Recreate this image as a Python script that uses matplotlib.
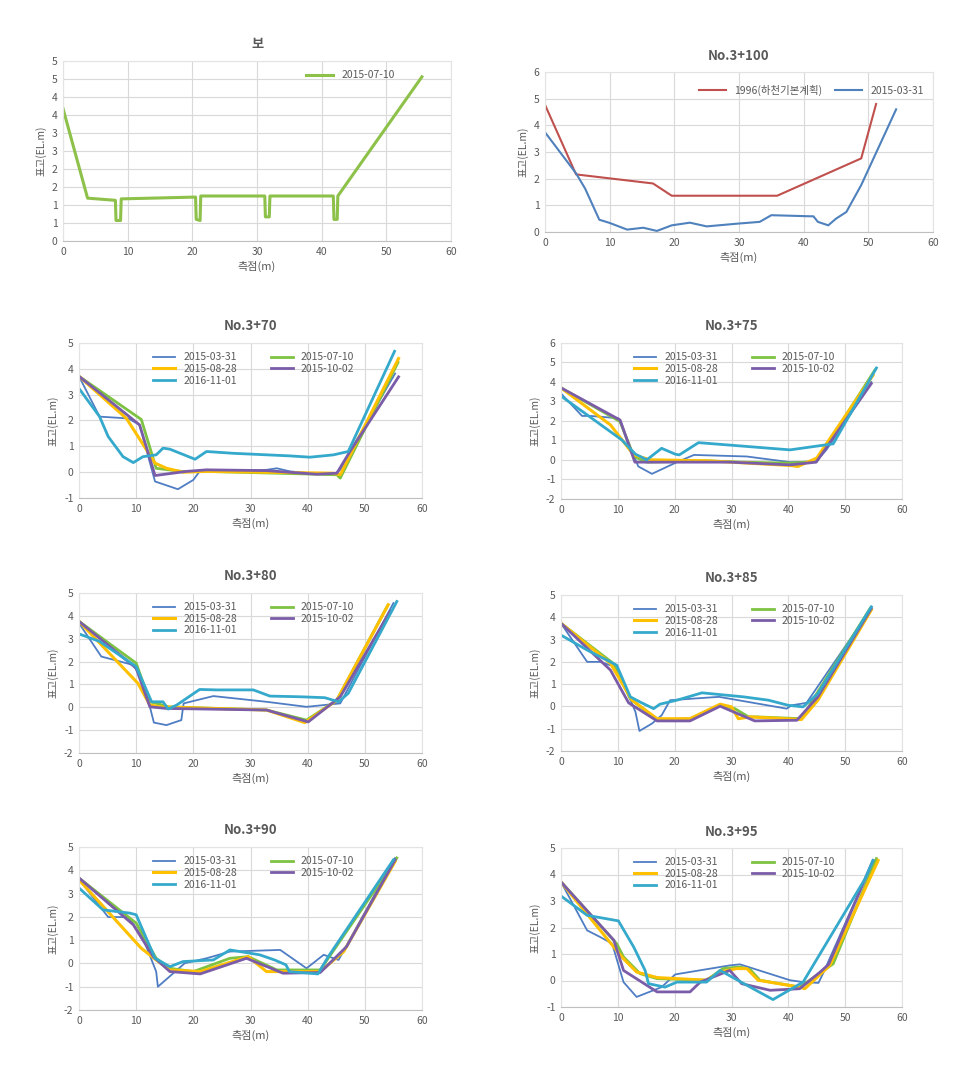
import matplotlib
matplotlib.use("Agg")
import matplotlib.pyplot as plt
from matplotlib.ticker import FuncFormatter, MultipleLocator

plt.rcParams['font.family'] = ['Noto Sans CJK KR', 'DejaVu Sans']
plt.rcParams['axes.unicode_minus'] = False

# ---- data: (station m, elevation EL.m) ----
bo_0710 = [(0, 3.68), (3.8, 1.19), (8.1, 1.13), (8.2, 0.57), (8.9, 0.57), (9.0, 1.17),
           (20.5, 1.22), (20.6, 0.6), (21.2, 0.57), (21.3, 1.25), (31.2, 1.25), (31.3, 0.67),
           (31.9, 0.67), (32.0, 1.25), (41.8, 1.25), (41.9, 0.6), (42.4, 0.6), (42.5, 1.25),
           (55.5, 4.56)]

s100_1996 = [(0, 4.77), (4.8, 2.16), (16.7, 1.82), (19.6, 1.36), (35.9, 1.36), (48.9, 2.76),
             (51.2, 4.8)]
s100_0331 = [(0, 3.74), (4.8, 2.2), (6.2, 1.63), (8.4, 0.46), (10, 0.34), (12.7, 0.09),
             (15.2, 0.16), (17.3, 0.04), (19.6, 0.25), (22.4, 0.35), (25, 0.21), (29.6, 0.31),
             (33.2, 0.38), (35, 0.63), (40.9, 0.59), (41.5, 0.59), (42.2, 0.38), (43.8, 0.25),
             (45, 0.5), (46.6, 0.75), (48.9, 1.76), (54.3, 4.6)]

s70 = {
    '2015-03-31': [(0, 3.71), (3.6, 2.15), (8.6, 2.08), (10.6, 1.83), (13.3, -0.36), (17.3, -0.66),
                   (20, -0.3), (21.1, 0.03), (22.3, 0.09), (27, 0.03), (32.8, 0.09), (34.6, 0.15),
                   (36.9, 0.03), (40.4, -0.04), (44.5, -0.1), (45.7, 0.09), (47.4, 0.8), (55.3, 3.82)],
    '2015-07-10': [(0, 3.71), (10.9, 2.04), (13.5, 0.15), (17.9, 0.03), (22.3, 0.03), (45.1, -0.1),
                   (45.7, -0.23), (55.8, 4.25)],
    '2015-08-28': [(0, 3.71), (8.3, 2.08), (13.3, 0.35), (15.3, 0.15), (18.2, 0.0), (22.3, 0.03),
                   (44.5, -0.04), (45.7, -0.1), (55.9, 4.4)],
    '2015-10-02': [(0, 3.71), (10.6, 1.83), (13.3, -0.13), (18.8, 0.03), (22.3, 0.09), (32.8, 0.06),
                   (41.6, -0.08), (45.1, -0.04), (47.4, 0.8), (55.9, 3.69)],
    '2016-11-01': [(0, 3.24), (3.6, 2.15), (5.1, 1.38), (7.7, 0.6), (9.5, 0.37), (11.2, 0.6),
                   (13.5, 0.67), (14.7, 0.93), (15.9, 0.89), (20.3, 0.5), (22.3, 0.8), (27, 0.73),
                   (36.9, 0.63), (40.4, 0.58), (44.5, 0.67), (47.1, 0.8), (55.2, 4.68)],
}
s75 = {
    '2015-03-31': [(0, 3.41), (3.7, 2.26), (5.2, 2.26), (10.1, 2.14), (13.6, -0.33), (16, -0.71),
                   (20.4, -0.11), (23.4, 0.26), (32.7, 0.18), (40.3, -0.11), (44.9, -0.08),
                   (46.7, 0.52), (54.6, 4.0)],
    '2015-07-10': [(0, 3.7), (10.4, 1.97), (12.8, 0.18), (15.1, -0.11), (25.6, -0.04), (31.5, -0.11),
                   (40.3, -0.16), (44.9, -0.08), (55.2, 4.6)],
    '2015-08-28': [(0, 3.7), (8.7, 1.8), (12.8, 0.26), (15.7, 0.01), (25.6, -0.04), (40.3, -0.28),
                   (41.7, -0.33), (45, 0.1), (54.9, 4.35)],
    '2015-10-02': [(0, 3.7), (10.4, 2.05), (13, -0.11), (18, -0.11), (29.7, -0.11), (40.3, -0.25),
                   (44.9, -0.11), (54.6, 3.92)],
    '2016-11-01': [(0, 3.28), (10.7, 1.03), (13.1, 0.3), (15.1, 0.01), (17.7, 0.6), (20.1, 0.3),
                   (20.8, 0.26), (24.2, 0.89), (40.3, 0.52), (47.9, 0.83), (55.5, 4.72)],
}
s80 = {
    '2015-03-31': [(0, 3.68), (3.9, 2.22), (9.5, 1.85), (10.6, 1.41), (12.4, 0.02), (13.1, -0.67),
                   (15.3, -0.78), (17.9, -0.56), (18.3, 0.17), (23.5, 0.49), (32.8, 0.24),
                   (39.8, 0.02), (45.7, 0.17), (55, 4.56)],
    '2015-07-10': [(0, 3.76), (10, 1.93), (12.4, 0.24), (13.6, 0.17), (15.6, 0.02), (32.8, -0.12),
                   (39.8, -0.56), (45.1, 0.31), (53.9, 4.41)],
    '2015-08-28': [(0, 3.76), (10.3, 1.05), (12.4, 0.1), (14.1, 0.02), (32.8, -0.12), (39.5, -0.67),
                   (45.1, 0.31), (54.1, 4.49)],
    '2015-10-02': [(0, 3.76), (10, 1.71), (12.4, 0.02), (15.3, -0.05), (32.8, -0.12), (40.1, -0.64),
                   (45.7, 0.46), (54.4, 4.19)],
    '2016-11-01': [(0, 3.21), (3.6, 2.88), (10, 1.78), (12.7, 0.24), (14.7, 0.24), (15.6, -0.08),
                   (17.1, 0.1), (21.1, 0.78), (24.1, 0.76), (30.5, 0.76), (33.4, 0.49), (38.7, 0.46),
                   (43, 0.42), (45.4, 0.24), (47.1, 0.61), (55.6, 4.63)],
}
s85 = {
    '2015-03-31': [(0, 3.73), (4.6, 2.0), (6.9, 2.0), (9.5, 1.78), (12.5, 0.13), (13.1, -0.25),
                   (13.8, -1.1), (16, -0.77), (17.7, -0.4), (19.2, 0.28), (27.8, 0.43),
                   (39.7, -0.1), (40.6, 0.05), (43.2, 0.16), (54.6, 4.4)],
    '2015-07-10': [(0, 3.73), (9.2, 1.93), (12.2, 0.35), (16.9, -0.62), (22.7, -0.55), (28, 0.05),
                   (30.6, -0.1), (33, -0.47), (34.4, -0.47), (42.3, -0.55), (45, 0.58), (54.4, 4.4)],
    '2015-08-28': [(0, 3.73), (8.7, 1.93), (12.5, 0.28), (16.9, -0.55), (22.7, -0.55), (28, 0.1),
                   (30, -0.02), (31.2, -0.55), (33.3, -0.47), (42.3, -0.59), (45.2, 0.28),
                   (54.6, 4.33)],
    '2015-10-02': [(0, 3.73), (8.7, 1.63), (11.9, 0.16), (16.9, -0.65), (22.7, -0.65), (28, 0.01),
                   (34.1, -0.65), (41.5, -0.62), (45.2, 0.43), (54.6, 4.4)],
    '2016-11-01': [(0, 3.2), (4.6, 2.53), (9.8, 1.85), (12.2, 0.43), (13.9, 0.2), (16.3, -0.1),
                   (17.4, 0.1), (20.4, 0.28), (24.8, 0.61), (32.1, 0.43), (36.5, 0.28), (40, 0.05),
                   (42.6, -0.02), (45.2, 0.58), (54.6, 4.47)],
}
s90 = {
    '2015-03-31': [(0, 3.62), (5.1, 1.99), (8.6, 1.99), (11.2, 1.08), (13.5, -0.35), (13.8, -1.0),
                   (16.5, -0.42), (18.5, 0.01), (22.3, 0.22), (26.4, 0.51), (35.2, 0.58),
                   (39.8, -0.21), (42.8, 0.37), (45.4, 0.15), (55.3, 4.53)],
    '2015-07-10': [(0, 3.67), (10, 1.73), (13.5, 0.22), (15.9, -0.21), (20, -0.35), (26.4, 0.22),
                   (29.6, 0.29), (34.6, -0.28), (42.2, -0.28), (55.6, 4.53)],
    '2015-08-28': [(0, 3.59), (10.9, 0.65), (13.5, 0.15), (15.9, -0.28), (21.2, -0.35), (29.6, 0.29),
                   (32.8, -0.35), (42.2, -0.35), (46.3, 0.51), (55.3, 4.38)],
    '2015-10-02': [(0, 3.67), (9.5, 1.66), (13, 0.29), (15.9, -0.35), (21.2, -0.45), (29.3, 0.22),
                   (35.7, -0.42), (42.2, -0.39), (46.8, 0.72), (55.3, 4.45)],
    '2016-11-01': [(0, 3.24), (4.2, 2.3), (8.9, 2.16), (10, 2.09), (13.3, 0.22), (15.9, -0.14),
                   (18.2, 0.08), (23.5, 0.15), (26.4, 0.58), (31.6, 0.37), (34.2, 0.15),
                   (36.2, -0.06), (36.8, -0.35), (41.8, -0.45), (43.6, 0.29), (55, 4.45)],
}
s95 = {
    '2015-03-31': [(0, 3.72), (4.6, 1.89), (6.9, 1.64), (9, 1.39), (11, -0.06), (13.3, -0.62),
                   (17.7, -0.25), (20.1, 0.23), (29.7, 0.57), (31.5, 0.61), (40.3, 0.01),
                   (42.6, -0.06), (45.3, -0.09), (46.1, 0.26), (54.9, 4.53)],
    '2015-07-10': [(0, 3.72), (9.8, 1.39), (11, 0.89), (13.9, 0.26), (16.9, 0.07), (25.6, 0.01),
                   (28.5, 0.45), (31.5, 0.51), (33.3, 0.41), (35, 0.01), (42, -0.25), (47.9, 0.63),
                   (55.5, 4.6)],
    '2015-08-28': [(0, 3.72), (9.3, 1.26), (11, 0.82), (13.3, 0.32), (16.9, 0.11), (25.6, 0.01),
                   (28, 0.32), (30.9, 0.45), (32.7, 0.45), (34.7, 0.01), (42, -0.25), (42.9, -0.31),
                   (47.3, 0.57), (55.8, 4.53)],
    '2015-10-02': [(0, 3.72), (9.3, 1.52), (11, 0.38), (13.7, 0.01), (16.9, -0.43), (22.7, -0.43),
                   (24.5, -0.06), (29.7, 0.38), (31.8, -0.12), (36.8, -0.37), (42, -0.31),
                   (45.6, 0.32), (47.1, 0.61), (54.9, 4.53)],
    '2016-11-01': [(0, 3.19), (4.6, 2.46), (10.1, 2.25), (12.8, 1.26), (14.8, 0.38), (15.4, -0.12),
                   (18.3, -0.25), (20.4, -0.06), (25.6, -0.06), (28, 0.38), (32.7, -0.18),
                   (37.3, -0.72), (42.6, -0.06), (53.5, 3.84), (54.9, 4.53)],
}

dates = ['2015-03-31', '2015-07-10', '2015-08-28', '2015-10-02', '2016-11-01']
colors = {'2015-03-31': '#4F7DC4', '2015-07-10': '#7DC242', '2015-08-28': '#FFC000',
          '2015-10-02': '#7A5CA8', '2016-11-01': '#35A9CB'}
widths = {'2015-03-31': 1.3, '2015-07-10': 2.0, '2015-08-28': 2.2,
          '2015-10-02': 2.0, '2016-11-01': 2.0}
legend_order = ['2015-03-31', '2015-08-28', '2016-11-01', '2015-07-10', '2015-10-02']

W, H = 974, 1069
fig = plt.figure(figsize=(W / 100, H / 100), dpi=100)
fig.patch.set_facecolor('white')

TXT = '#595959'


def make_ax(x0, y0, x1, y1):
    return fig.add_axes([x0 / W, 1 - y1 / H, (x1 - x0) / W, (y1 - y0) / H])


def style(ax, title, ylim, ystep, fmt=None):
    ax.set_xlim(0, 60)
    ax.set_ylim(*ylim)
    ax.xaxis.set_major_locator(MultipleLocator(10))
    ax.yaxis.set_major_locator(MultipleLocator(ystep))
    if fmt is not None:
        ax.yaxis.set_major_formatter(FuncFormatter(fmt))
    ax.grid(True, color='#D9D9D9', lw=0.8)
    ax.set_axisbelow(True)
    for sp in ax.spines.values():
        sp.set_color('#E3E3E3')
        sp.set_linewidth(0.8)
    ax.spines['bottom'].set_color('#BFBFBF')
    ax.tick_params(length=0, labelsize=7.5, colors=TXT, pad=4)
    ax.set_title(title, fontsize=9.5, color=TXT, fontweight='bold', pad=9)
    ax.set_ylabel('표고(EL.m)', fontsize=7.5, color=TXT, labelpad=4)
    ax.set_xlabel('측점(m)', fontsize=8, color=TXT, labelpad=3)


def plot_pts(ax, pts, **kw):
    xs = [p[0] for p in pts]
    ys = [p[1] for p in pts]
    return ax.plot(xs, ys, solid_joinstyle='round', **kw)[0]


# panel 1: 보
ax = make_ax(63, 61, 451, 241)
style(ax, '보', (0, 5), 0.5, fmt=lambda v, p: '%d' % int(v + 0.5 + 1e-9))
plot_pts(ax, bo_0710, color='#8DC14A', lw=2.2, label='2015-07-10')
ax.legend(loc='upper right', bbox_to_anchor=(0.88, 1.0), frameon=False, fontsize=7.5,
          handlelength=2.6, labelcolor=TXT)

# panel 2: No.3+100
ax = make_ax(545, 72, 933, 232)
style(ax, 'No.3+100', (0, 6), 1)
plot_pts(ax, s100_1996, color='#C0504D', lw=1.5, label='1996(하천기본계획)')
plot_pts(ax, s100_0331, color='#4F81BD', lw=1.5, label='2015-03-31')
ax.legend(loc='upper right', ncol=2, frameon=False, fontsize=7.5, handlelength=2.6,
          columnspacing=1.2, labelcolor=TXT, bbox_to_anchor=(1.0, 0.98))

# panels 3-8
panels = [
    ('No.3+70', s70, (79, 343, 422, 498), (-1, 5)),
    ('No.3+75', s75, (561, 343, 902, 499), (-2, 6)),
    ('No.3+80', s80, (79, 593, 422, 753), (-2, 5)),
    ('No.3+85', s85, (561, 595, 902, 751), (-2, 5)),
    ('No.3+90', s90, (79, 847, 422, 1010), (-2, 5)),
    ('No.3+95', s95, (561, 848, 902, 1007), (-1, 5)),
]
for title, series, box, ylim in panels:
    ax = make_ax(*box)
    style(ax, title, ylim, 1)
    handles = {}
    for d in dates:
        handles[d] = plot_pts(ax, series[d], color=colors[d], lw=widths[d], label=d)
    ax.legend([handles[d] for d in legend_order], legend_order, loc='upper center',
              bbox_to_anchor=(0.51, 1.0), ncol=2, frameon=False, fontsize=7.5,
              handlelength=2.1, columnspacing=3.2, labelspacing=0.15, labelcolor=TXT)

fig.savefig('out.png', dpi=100)
